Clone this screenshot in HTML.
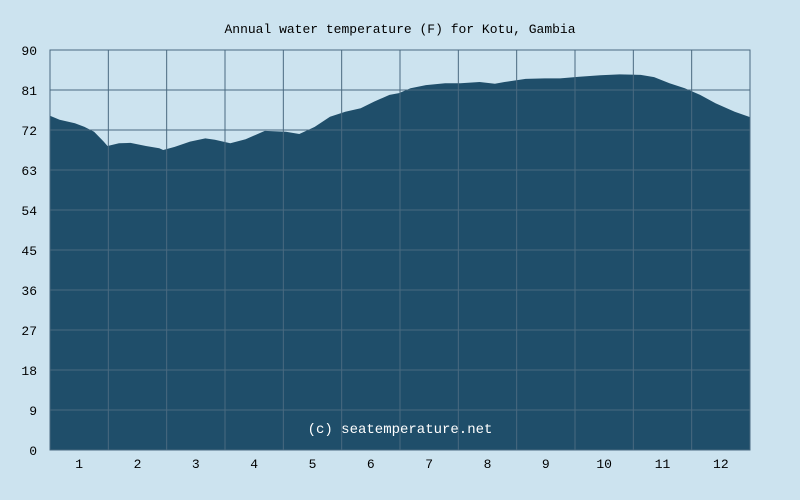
<!DOCTYPE html>
<html><head><meta charset="utf-8"><style>
html,body{margin:0;padding:0;background:#cce3ef;}
svg{display:block;}
text{font-family:"Liberation Mono",monospace;fill:#000;}
</style></head><body>
<svg id="chart" width="800" height="500" xmlns="http://www.w3.org/2000/svg">
<rect x="0" y="0" width="800" height="500" fill="#cce3ef"/>
<text x="400" y="33" text-anchor="middle" font-size="13">Annual water temperature (F) for Kotu, Gambia</text>
<g id="area"></g>
<g id="grid"></g>
<g id="yticks"></g>
<g id="xticks"></g>
<text x="400" y="433" text-anchor="middle" font-size="14" style="fill:#ffffff">(c) seatemperature.net</text>
<rect x="50" y="50" width="700" height="400" fill="none" stroke="#4a6a80" stroke-width="1"/>
</svg>
<script>
const days=[0,5,13,18,23,28,30,36,42,50,57,59,65,73,81,86,94,102,112,123,130,138,146,154,162,169,177,182,188,196,206,214,224,232,237,248,258,266,276,287,297,308,315,323,331,339,347,357,365];
const temps=[75.2,74.3,73.5,72.7,71.6,69.4,68.4,69.0,69.1,68.4,67.9,67.5,68.2,69.4,70.1,69.8,69.0,69.9,71.8,71.6,71.1,72.7,75.0,76.1,76.9,78.4,79.9,80.3,81.4,82.1,82.5,82.5,82.8,82.4,82.8,83.5,83.6,83.6,84.0,84.3,84.5,84.4,83.9,82.5,81.4,79.9,78.0,76.1,74.9];
const yTicks=[0,9,18,27,36,45,54,63,72,81,90];
const months=["1","2","3","4","5","6","7","8","9","10","11","12"];
const NS="http://www.w3.org/2000/svg";
const X0=50,X1=750,Y0=450,Y1=50,YMAX=90,DAYS=365;
const xs=d=>X0+d/DAYS*(X1-X0);
const ys=v=>Y0-v/YMAX*(Y0-Y1);
function mk(tag,attrs,parent){const e=document.createElementNS(NS,tag);for(const k in attrs)e.setAttribute(k,attrs[k]);parent.appendChild(e);return e;}
const area=document.getElementById('area');
let d="M"+xs(days[0])+","+Y0;
for(let i=0;i<days.length;i++){d+=" L"+xs(days[i]).toFixed(1)+","+ys(temps[i]).toFixed(1);}
d+=" L"+xs(days[days.length-1])+","+Y0+" Z";
const p=mk('path',{d:d,fill:'#1f4e6a'},area);


const grid=document.getElementById('grid');
const yt=document.getElementById('yticks');
yTicks.forEach(v=>{
 const l=mk('line',{x1:X0,x2:X1,y1:ys(v),y2:ys(v),stroke:'#4a6a80','stroke-width':1},grid);
 
 
 const t=mk('text',{x:37,y:ys(v)+5,'text-anchor':'end','font-size':13},yt);
 t.textContent=v;
 
 
});
const xt=document.getElementById('xticks');
const mw=(X1-X0)/months.length;
months.forEach((m,i)=>{
 const gx=X0+i*mw;
 const l=mk('line',{x1:gx,x2:gx,y1:Y1,y2:Y0,stroke:'#4a6a80','stroke-width':1},grid);
 
 
 const t=mk('text',{x:gx+mw/2,y:468,'text-anchor':'middle','font-size':13},xt);
 t.textContent=m;
 
 
});
</script>
</body></html>
